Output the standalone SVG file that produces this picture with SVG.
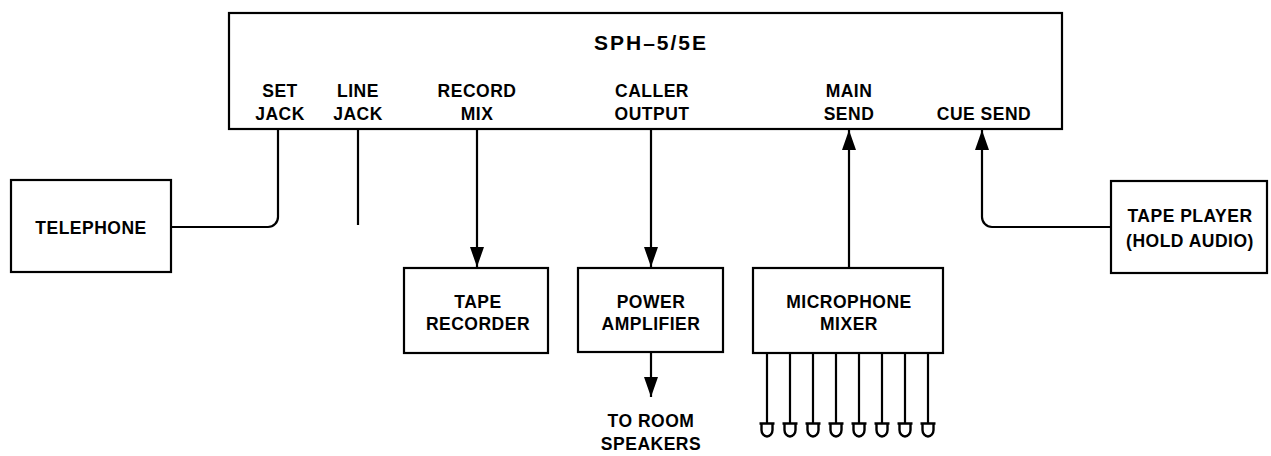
<svg xmlns="http://www.w3.org/2000/svg" width="1271" height="456" viewBox="0 0 1271 456">
<defs>
<style>
.box{fill:#fff;stroke:#000;stroke-width:2.2}
.ln{fill:none;stroke:#000;stroke-width:2.2}
.t{font-family:"Liberation Sans",Arial,sans-serif;font-weight:bold;font-size:17.5px;text-anchor:middle;fill:#000;letter-spacing:0.5px}
.title{font-size:21px;letter-spacing:2px}
.mic{fill:none;stroke:#000;stroke-width:2.4}
</style>
<marker id="arrv" markerUnits="userSpaceOnUse" markerWidth="20" markerHeight="14" viewBox="0 0 20 14" refX="20" refY="7" orient="auto">
<path d="M0,0 L20,7 L0,14 Z" fill="#000"/>
</marker>
</defs>

<g id="connectors">
<path class="ln" d="M278,129 V217 A10,10 0 0 1 268,227 H171"/>
<path class="ln" d="M358,129 V225"/>
<path class="ln" d="M477,129 V267" marker-end="url(#arrv)"/>
<path class="ln" d="M651,129 V267" marker-end="url(#arrv)"/>
<path class="ln" d="M651,352 V397" marker-end="url(#arrv)"/>
<path class="ln" d="M849,268 V130" marker-end="url(#arrv)"/>
<path class="ln" d="M1111,227 H992 A10,10 0 0 1 982,217 V130" marker-end="url(#arrv)"/>
<path class="ln" d="M767,353 V423 M790,353 V423 M813,353 V423 M836,353 V423 M859,353 V423 M882,353 V423 M905,353 V423 M928,353 V423"/>
</g>

<g id="sph">
<rect class="box" x="229" y="13" width="833" height="116"/>
<text class="t title" x="651" y="50">SPH–5/5E</text>
<text class="t" x="280" y="97">SET</text>
<text class="t" x="280" y="120">JACK</text>
<text class="t" x="358" y="97">LINE</text>
<text class="t" x="358" y="120">JACK</text>
<text class="t" x="477" y="97">RECORD</text>
<text class="t" x="477" y="120">MIX</text>
<text class="t" x="652" y="97">CALLER</text>
<text class="t" x="652" y="120">OUTPUT</text>
<text class="t" x="849" y="97">MAIN</text>
<text class="t" x="849" y="120">SEND</text>
<text class="t" x="984" y="120">CUE SEND</text>
</g>

<g id="telephone">
<rect class="box" x="11" y="180" width="160" height="92"/>
<text class="t" x="91" y="234">TELEPHONE</text>
</g>

<g id="tape-recorder">
<rect class="box" x="404" y="268" width="144" height="85"/>
<text class="t" x="478" y="308">TAPE</text>
<text class="t" x="478" y="330">RECORDER</text>
</g>

<g id="power-amplifier">
<rect class="box" x="578" y="268" width="145" height="84"/>
<text class="t" x="651" y="308">POWER</text>
<text class="t" x="651" y="330">AMPLIFIER</text>
</g>

<g id="speakers-label">
<text class="t" x="651" y="427">TO ROOM</text>
<text class="t" x="651" y="450">SPEAKERS</text>
</g>

<g id="microphone-mixer">
<rect class="box" x="753" y="268" width="190" height="85"/>
<text class="t" x="849" y="308">MICROPHONE</text>
<text class="t" x="849" y="330">MIXER</text>
</g>

<g id="microphones">
<path class="mic" d="M759.5,423.5 H774.5 M761.5,423.5 V430 A5.5,6.5 0 0 0 772.5,430 V423.5"/>
<path class="mic" d="M782.5,423.5 H797.5 M784.5,423.5 V430 A5.5,6.5 0 0 0 795.5,430 V423.5"/>
<path class="mic" d="M805.5,423.5 H820.5 M807.5,423.5 V430 A5.5,6.5 0 0 0 818.5,430 V423.5"/>
<path class="mic" d="M828.5,423.5 H843.5 M830.5,423.5 V430 A5.5,6.5 0 0 0 841.5,430 V423.5"/>
<path class="mic" d="M851.5,423.5 H866.5 M853.5,423.5 V430 A5.5,6.5 0 0 0 864.5,430 V423.5"/>
<path class="mic" d="M874.5,423.5 H889.5 M876.5,423.5 V430 A5.5,6.5 0 0 0 887.5,430 V423.5"/>
<path class="mic" d="M897.5,423.5 H912.5 M899.5,423.5 V430 A5.5,6.5 0 0 0 910.5,430 V423.5"/>
<path class="mic" d="M920.5,423.5 H935.5 M922.5,423.5 V430 A5.5,6.5 0 0 0 933.5,430 V423.5"/>
</g>

<g id="tape-player">
<rect class="box" x="1111" y="181" width="156" height="92"/>
<text class="t" x="1190" y="222">TAPE PLAYER</text>
<text class="t" x="1190" y="247">(HOLD AUDIO)</text>
</g>
</svg>
